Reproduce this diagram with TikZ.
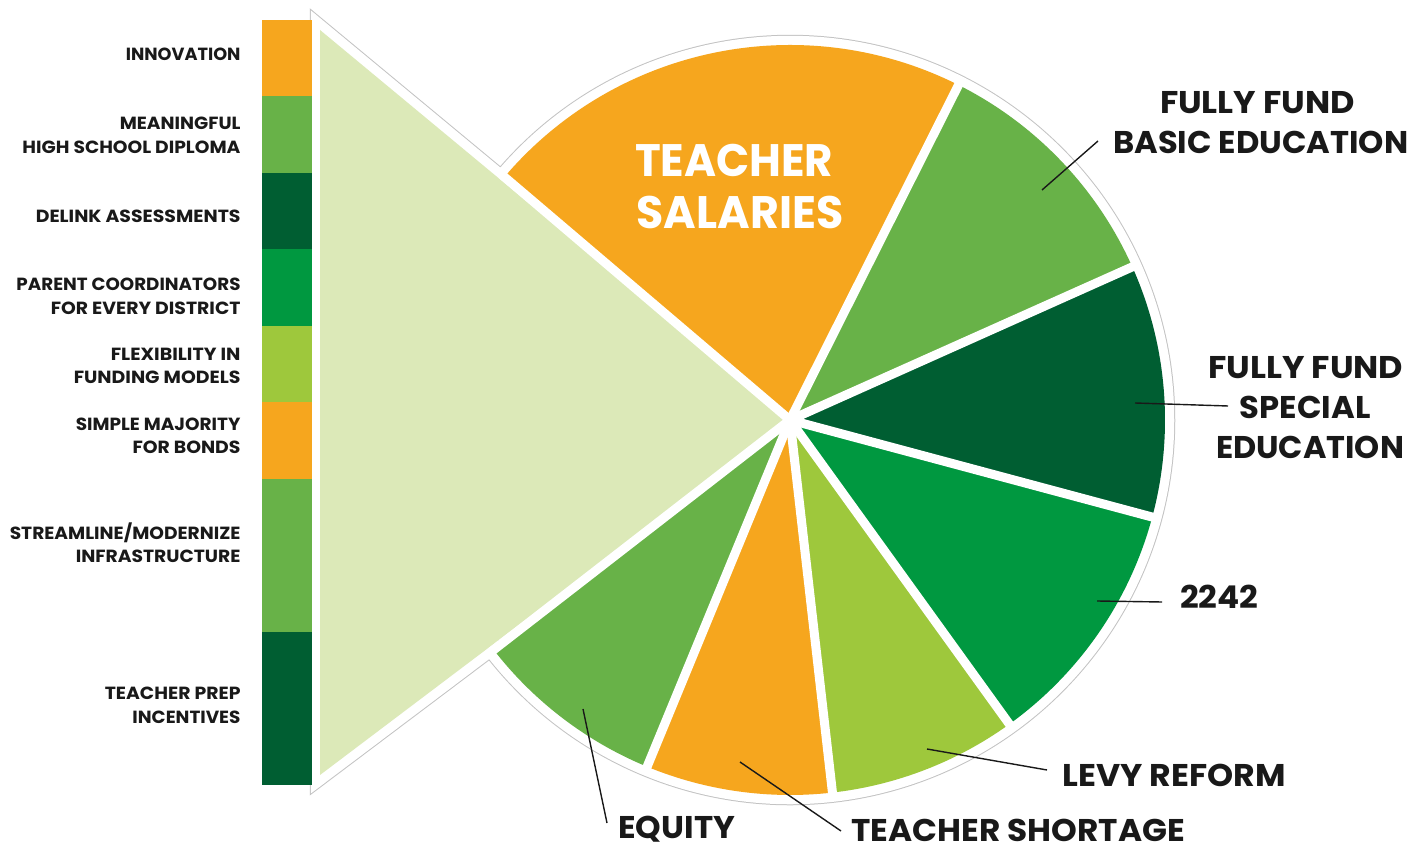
\documentclass[tikz,border=0pt]{standalone}
\usepackage{fontspec}
\setmainfont{Poppins}
\usepackage{graphicx}
\definecolor{orng}{RGB}{246,166,30}
\definecolor{midg}{RGB}{104,178,72}
\definecolor{darkg}{RGB}{0,94,50}
\definecolor{brightg}{RGB}{0,152,64}
\definecolor{limeg}{RGB}{158,200,60}
\definecolor{paleg}{RGB}{220,233,184}
\definecolor{rimgray}{RGB}{195,195,195}
\definecolor{inkc}{RGB}{25,25,25}
% stretch a text horizontally to a given width, keeping its height
\newcommand{\fitw}[2]{\resizebox{#1pt}{\height}{#2}}
% one slice of the pie, between two angles
\newcommand{\pieslice}[3]{\fill[#1] (C) -- ++(#2:375) arc[start angle=#2, end angle=#3, radius=375] -- cycle;}

\begin{document}
\begin{tikzpicture}[x=1pt,y=1pt,
  sidelabel/.style={anchor=base east, inner sep=0pt, font=\fontsize{17.6}{20}\selectfont\bfseries, text=inkc},
  biglabel/.style={anchor=base, inner sep=0pt, font=\fontsize{31.4}{36}\selectfont\bfseries, text=inkc},
  whitelabel/.style={anchor=base, inner sep=0pt, font=\fontsize{45.5}{50}\selectfont\bfseries, text=white},
  leader/.style={draw=inkc, line width=1.4pt},
  gapline/.style={draw=white, line width=9pt},
]
\useasboundingbox (0,0) rectangle (1427,846);
\coordinate (C) at (790,426);

% white body with a thin grey rim around the triangle and the disc
\draw[fill=white, draw=rimgray, line width=1pt, double=white, double distance=18.5pt, miter limit=20]
  (320,816) -- (501.5,665.5) arc[start angle=140.3, end angle=-142.9, radius=375]
  -- (320,71) -- cycle;

% stacked colour bar
\fill[orng]    (262,826)   rectangle (312,749.5);
\fill[midg]    (262,749.5) rectangle (312,673);
\fill[darkg]   (262,673)   rectangle (312,596.5);
\fill[brightg] (262,596.5) rectangle (312,520);
\fill[limeg]   (262,520)   rectangle (312,443.5);
\fill[orng]    (262,443.5) rectangle (312,367);
\fill[midg]    (262,367)   rectangle (312,214);
\fill[darkg]   (262,214)   rectangle (312,61);

% pale triangle
\fill[paleg] (320,816) -- (C) -- (320,71) -- cycle;

% pie slices
\pieslice{orng}{63.3}{139.6}
\pieslice{midg}{24.1}{63.3}
\pieslice{darkg}{-15}{24.1}
\pieslice{brightg}{-54.2}{-15}
\pieslice{limeg}{-83.5}{-54.2}
\pieslice{orng}{-112.4}{-83.5}
\pieslice{midg}{-142.2}{-112.4}

% white gaps between slices
\foreach \a in {139.6,63.3,24.1,-15,-54.2,-83.5,-112.4,-142.2}
  \draw[gapline] (C) -- ++(\a:378);

% labels beside the bar
\node[sidelabel] (innov)  at (240.7,785)   {\fitw{114.7}{INNOVATION}};
\node[sidelabel] (diplA)  at (240.7,716)   {\fitw{120.7}{MEANINGFUL}};
\node[sidelabel] (diplB)  at (240.7,692.7) {\fitw{218}{HIGH SCHOOL DIPLOMA}};
\node[sidelabel] (delink) at (240.7,623.3) {\fitw{204.7}{DELINK ASSESSMENTS}};
\node[sidelabel] (parA)   at (240.7,555)   {\fitw{224}{PARENT COORDINATORS}};
\node[sidelabel] (parB)   at (240.7,531.7) {\fitw{189.7}{FOR EVERY DISTRICT}};
\node[sidelabel] (flexA)  at (240.7,485)   {\fitw{129.7}{FLEXIBILITY IN}};
\node[sidelabel] (flexB)  at (240.7,462)   {\fitw{166.7}{FUNDING MODELS}};
\node[sidelabel] (bondA)  at (240.7,415.3) {\fitw{164.7}{SIMPLE MAJORITY}};
\node[sidelabel] (bondB)  at (240.7,392.7) {\fitw{108}{FOR BONDS}};
\node[sidelabel] (infA)   at (240.7,306)   {\fitw{230.7}{STREAMLINE/MODERNIZE}};
\node[sidelabel] (infB)   at (240.7,283.3) {\fitw{164.7}{INFRASTRUCTURE}};
\node[sidelabel] (prepA)  at (240.7,146)   {\fitw{135.7}{TEACHER PREP}};
\node[sidelabel] (prepB)  at (240.7,122.7) {\fitw{108}{INCENTIVES}};

% label inside the large slice
\node[whitelabel] (salA) at (734.2,669.3) {\fitw{198.3}{TEACHER}};
\node[whitelabel] (salB) at (740,617.7)   {\fitw{206.7}{SALARIES}};

% labels around the pie
\node[biglabel] (basicA) at (1257.5,732.7) {\fitw{195}{FULLY FUND}};
\node[biglabel] (basicB) at (1260.8,692.7) {\fitw{295}{BASIC EDUCATION}};
\node[biglabel] (specA)  at (1305.8,467.7) {\fitw{195}{FULLY FUND}};
\node[biglabel] (specB)  at (1305.3,427.7) {\fitw{130.7}{SPECIAL}};
\node[biglabel] (specC)  at (1310,387.7)   {\fitw{188}{EDUCATION}};
\node[biglabel] (bill)   at (1219.2,237.7) {\fitw{78.3}{2242}};
\node[biglabel] (levy)   at (1174.3,59.3)  {\fitw{223.3}{LEVY REFORM}};
\node[biglabel] (short)  at (1018.3,4.5)   {\fitw{333.3}{TEACHER SHORTAGE}};
\node[biglabel] (equity) at (676.7,7)      {\fitw{116.7}{EQUITY}};

% leader lines
\coordinate (basicIn) at (1042,656);  \coordinate (basicOut) at (1098,705);
\coordinate (specIn)  at (1135,443);  \coordinate (specOut)  at (1228,440);
\coordinate (billIn)  at (1097,245);  \coordinate (billOut)  at (1162,244);
\coordinate (levyIn)  at (927,97);    \coordinate (levyOut)  at (1047,76);
\coordinate (shortIn) at (740,84);    \coordinate (shortOut) at (841,15);
\coordinate (eqIn)    at (583,137);   \coordinate (eqOut)    at (607,23);
\draw[leader] (basicIn) -- (basicOut);
\draw[leader] (specIn)  -- (specOut);
\draw[leader] (billIn)  -- (billOut);
\draw[leader] (levyIn)  -- (levyOut);
\draw[leader] (shortIn) -- (shortOut);
\draw[leader] (eqIn)    -- (eqOut);
\end{tikzpicture}
\end{document}
